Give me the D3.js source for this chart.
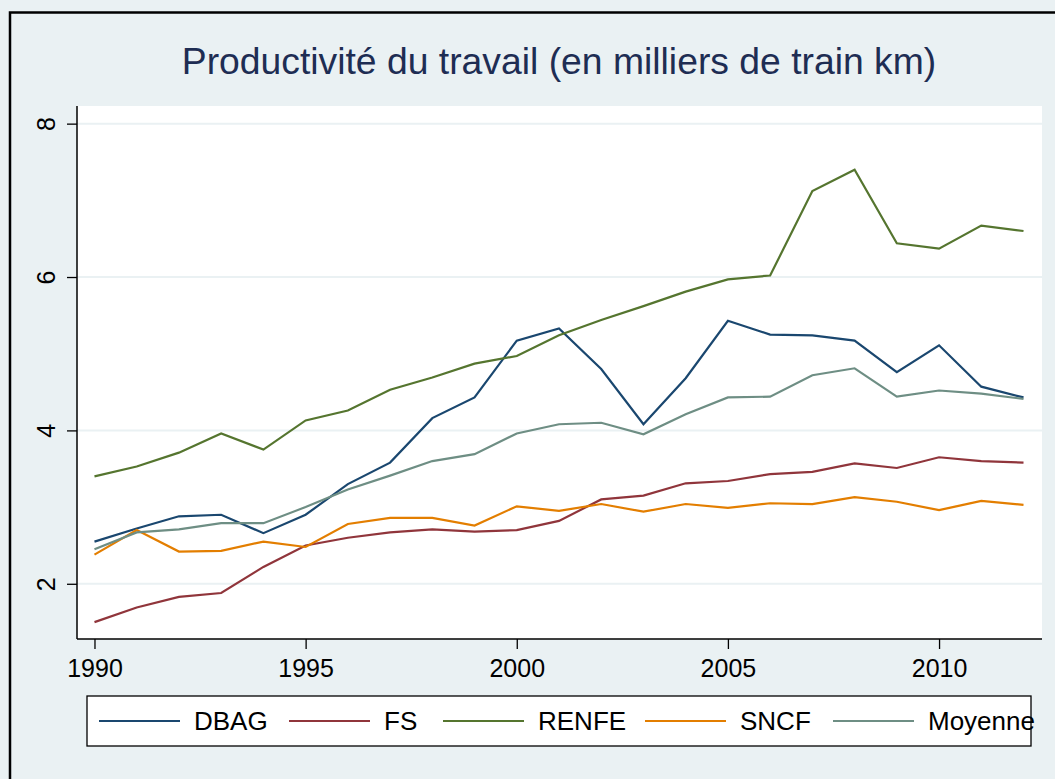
<!DOCTYPE html>
<html>
<head>
  <meta charset="UTF-8">
  <title>Productivité du travail</title>
  <script src="https://cdn.jsdelivr.net/npm/d3@7"></script>
  <style>
    body { margin: 0; background: #eaf1f3; }
    text { font-family: Arial, "Liberation Sans", Helvetica, sans-serif; }
  </style>
</head>
<body>
<script>
// data
var years = d3.range(1990, 2013);
var dbag    = [2.55, 2.72, 2.88, 2.90, 2.66, 2.90, 3.30, 3.58, 4.16, 4.43, 5.17, 5.33, 4.80, 4.08, 4.68, 5.43, 5.25, 5.24, 5.17, 4.76, 5.11, 4.57, 4.43];
var fs      = [1.50, 1.69, 1.83, 1.88, 2.22, 2.50, 2.60, 2.67, 2.71, 2.68, 2.70, 2.82, 3.10, 3.15, 3.31, 3.34, 3.43, 3.46, 3.57, 3.51, 3.65, 3.60, 3.58];
var renfe   = [3.40, 3.53, 3.71, 3.96, 3.75, 4.13, 4.26, 4.53, 4.69, 4.87, 4.97, 5.24, 5.44, 5.62, 5.81, 5.97, 6.02, 7.12, 7.40, 6.44, 6.37, 6.67, 6.60];
var sncf    = [2.38, 2.70, 2.42, 2.43, 2.55, 2.48, 2.78, 2.86, 2.86, 2.76, 3.01, 2.95, 3.04, 2.94, 3.04, 2.99, 3.05, 3.04, 3.13, 3.07, 2.96, 3.08, 3.03];
var moyenne = [2.45, 2.67, 2.71, 2.79, 2.79, 3.00, 3.23, 3.41, 3.60, 3.69, 3.96, 4.08, 4.10, 3.95, 4.21, 4.43, 4.44, 4.72, 4.81, 4.44, 4.52, 4.48, 4.41];
var seriesNames = ['DBAG', 'FS', 'RENFE', 'SNCF', 'Moyenne'];
var colors = ['#1a476f', '#90353b', '#55752f', '#e37e00', '#6e8e84'];
var xTicks = [1990, 1995, 2000, 2005, 2010];
var yTicks = [2, 4, 6, 8];

var W = 1055, H = 779;
var svg = d3.select('body').append('svg')
    .attr('width', W)
    .attr('height', H);

// outer frame
svg.append('rect')
    .attr('x', 0).attr('y', 0).attr('width', W).attr('height', H)
    .attr('fill', '#eaf1f3');
svg.append('rect')
    .attr('x', 10).attr('y', 12.5).attr('width', 1200).attr('height', 1000)
    .attr('fill', 'none').attr('stroke', '#000').attr('stroke-width', 2.5);

// title
svg.append('text')
    .attr('x', 559).attr('y', 74)
    .attr('text-anchor', 'middle')
    .attr('font-size', 37.3)
    .attr('fill', '#1e2d53')
    .text('Productivité du travail (en milliers de train km)');

var pLeft = 77, pRight = 1042, pTop = 106, pBottom = 639;
var x = d3.scaleLinear().domain([1989.586, 2012.438]).range([pLeft, pRight]);
var y = d3.scaleLinear().domain([1.28, 8.23]).range([pBottom, pTop]);

// plot region
svg.append('rect')
    .attr('x', pLeft).attr('y', pTop)
    .attr('width', pRight - pLeft).attr('height', pBottom - pTop)
    .attr('fill', '#fff');

// gridlines
svg.selectAll('.grid').data(yTicks).enter().append('line')
    .attr('class', 'grid')
    .attr('x1', pLeft).attr('x2', pRight)
    .attr('y1', function (d) { return y(d); })
    .attr('y2', function (d) { return y(d); })
    .attr('stroke', '#eaf1f3').attr('stroke-width', 2);

// lines
var all = [dbag, fs, renfe, sncf, moyenne];
var line = d3.line()
    .x(function (d, i) { return x(years[i]); })
    .y(function (d) { return y(d); });
all.forEach(function (vals, k) {
  svg.append('path')
      .attr('d', line(vals))
      .attr('fill', 'none')
      .attr('stroke', colors[k])
      .attr('stroke-width', 2.2)
      .attr('stroke-linejoin', 'miter');
});

// y axis
var yAxis = svg.append('g')
    .attr('transform', 'translate(' + pLeft + ',0)')
    .call(d3.axisLeft(y).tickValues(yTicks).tickSize(10).tickFormat(d3.format('d')));
yAxis.select('.domain').attr('d', 'M0,' + pTop + 'V' + pBottom).attr('stroke-width', 1.5);
yAxis.selectAll('.tick line').attr('stroke-width', 1.3);
yAxis.selectAll('.tick text')
    .attr('font-size', 25)
    .attr('font-family', 'Arial, "Liberation Sans", sans-serif')
    .attr('fill', '#000')
    .attr('text-anchor', 'middle')
    .attr('dy', null)
    .attr('x', null)
    .attr('y', 0)
    .attr('transform', 'translate(-31,0) rotate(-90)')
    .attr('dominant-baseline', 'central');

// x axis
var xAxis = svg.append('g')
    .attr('transform', 'translate(0,' + pBottom + ')')
    .call(d3.axisBottom(x).tickValues(xTicks).tickSize(10).tickPadding(10).tickFormat(d3.format('d')));
xAxis.select('.domain').attr('d', 'M' + pLeft + ',0H' + pRight).attr('stroke-width', 1.5);
xAxis.selectAll('.tick line').attr('stroke-width', 1.3);
xAxis.selectAll('.tick text')
    .attr('font-size', 25)
    .attr('font-family', 'Arial, "Liberation Sans", sans-serif')
    .attr('fill', '#000');

// legend
svg.append('rect')
    .attr('x', 87).attr('y', 696).attr('width', 944).attr('height', 50)
    .attr('fill', '#fff').attr('stroke', '#000').attr('stroke-width', 1.3);
var legX = [99, 289, 443, 645, 833];
seriesNames.forEach(function (name, k) {
  svg.append('line')
      .attr('x1', legX[k]).attr('x2', legX[k] + 81)
      .attr('y1', 721).attr('y2', 721)
      .attr('stroke', colors[k]).attr('stroke-width', 2.2);
  svg.append('text')
      .attr('x', legX[k] + 95).attr('y', 730)
      .attr('font-size', 26)
      .attr('fill', '#000')
      .text(name);
});
</script>
</body>
</html>
